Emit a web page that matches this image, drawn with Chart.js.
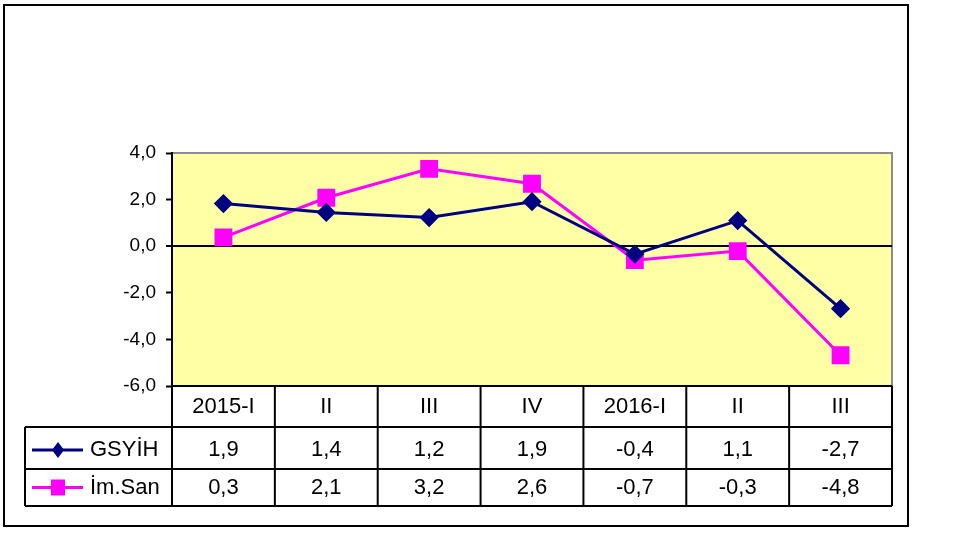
<!DOCTYPE html>
<html><head><meta charset="utf-8">
<script src="https://cdn.jsdelivr.net/npm/chart.js@4"></script>
<style>html,body{margin:0;padding:0;background:#fff;}canvas{display:block;}</style>
</head><body>
<canvas id="c" width="961" height="550"></canvas>
<script>
const categories = ["2015-I", "II", "III", "IV", "2016-I", "II", "III"];
const seriesNames = ["GSYİH", "İm.San"];
const gsyih = [1.83, 1.45, 1.23, 1.91, -0.34, 1.1, -2.68];
const imSan = [0.38, 2.08, 3.32, 2.68, -0.6, -0.21, -4.68];
const gsyihTable = ["1,9", "1,4", "1,2", "1,9", "-0,4", "1,1", "-2,7"];
const imSanTable = ["0,3", "2,1", "3,2", "2,6", "-0,7", "-0,3", "-4,8"];
const yTicks = [4, 2, 0, -2, -4, -6];

const colors = ["#000080", "#FF00FF"];
const FONT = "Liberation Sans, Arial, sans-serif";

const bgPlugin = {
  id: 'bg',
  beforeDraw(chart) {
    const {ctx, chartArea: a} = chart;
    ctx.save();
    ctx.fillStyle = '#FFFFA6';
    ctx.fillRect(a.left, a.top, a.right - a.left, a.bottom - a.top);
    ctx.strokeStyle = '#8c8c8c';
    ctx.lineWidth = 2;
    ctx.beginPath();
    ctx.moveTo(a.left, a.top); ctx.lineTo(a.right, a.top); ctx.lineTo(a.right, a.bottom);
    ctx.stroke();
    ctx.strokeStyle = '#000';
    ctx.lineWidth = 2;
    ctx.strokeRect(4, 5, 904, 521);
    ctx.restore();
  }
};

const tablePlugin = {
  id: 'table',
  afterDraw(chart) {
    const {ctx, chartArea: a} = chart;
    const xs = chart.scales.x;
    const n = categories.length;
    const step = (a.right - a.left) / n;
    const bounds = [];
    for (let i = 0; i <= n; i++) bounds.push(a.left + i * step);
    const rowY = [a.bottom, a.bottom + 41, a.bottom + 83, a.bottom + 120];
    const tableLeft = 25;
    ctx.save();
    ctx.strokeStyle = '#000';
    ctx.lineWidth = 2;
    ctx.beginPath();
    for (let i = 0; i <= n; i++) {
      ctx.moveTo(bounds[i], rowY[0]); ctx.lineTo(bounds[i], rowY[3]);
    }
    ctx.moveTo(tableLeft, rowY[1]); ctx.lineTo(tableLeft, rowY[3]);
    ctx.moveTo(a.left, rowY[0]); ctx.lineTo(a.right, rowY[0]);
    for (let r = 1; r <= 3; r++) { ctx.moveTo(tableLeft, rowY[r]); ctx.lineTo(a.right, rowY[r]); }
    ctx.stroke();

    ctx.fillStyle = '#000';
    ctx.font = '22px ' + FONT;
    ctx.textAlign = 'center';
    ctx.textBaseline = 'middle';
    const cy0 = (rowY[0] + rowY[1]) / 2;
    const cy1 = (rowY[1] + rowY[2]) / 2 + 2;
    const cy2 = (rowY[2] + rowY[3]) / 2;
    categories.forEach((c, i) => {
      const cx = xs.getPixelForValue(i);
      ctx.fillText(c, cx, cy0);
      ctx.fillText(gsyihTable[i], cx, cy1);
      ctx.fillText(imSanTable[i], cx, cy2);
    });
    [cy1, cy2].forEach((cy, k) => {
      ctx.strokeStyle = colors[k];
      ctx.lineWidth = 3;
      ctx.beginPath(); ctx.moveTo(32, cy); ctx.lineTo(83, cy); ctx.stroke();
      ctx.fillStyle = colors[k];
      ctx.beginPath();
      if (k === 0) {
        ctx.moveTo(58, cy - 8); ctx.lineTo(64, cy); ctx.lineTo(58, cy + 8); ctx.lineTo(52, cy);
        ctx.closePath(); ctx.fill();
      } else {
        ctx.fillRect(51, cy - 8, 14, 16);
      }
      ctx.fillStyle = '#000';
      ctx.textAlign = 'left';
      ctx.fillText(seriesNames[k], 90, cy);
    });
    ctx.restore();
  }
};

new Chart(document.getElementById('c'), {
  type: 'line',
  data: {
    labels: categories,
    datasets: [
      { label: seriesNames[0], data: gsyih, borderColor: colors[0], backgroundColor: colors[0],
        borderWidth: 3, pointStyle: 'rectRot', pointRadius: 7.5, pointHoverRadius: 7.5, tension: 0 },
      { label: seriesNames[1], data: imSan, borderColor: colors[1], backgroundColor: colors[1],
        borderWidth: 3, pointStyle: 'rect', pointRadius: 10.5, pointHoverRadius: 10.5, tension: 0 }
    ]
  },
  options: {
    responsive: false,
    devicePixelRatio: 1,
    animation: false,
    events: [],
    layout: { padding: { left: 112, top: 153, right: 69, bottom: 164 } },
    plugins: { legend: { display: false }, tooltip: { enabled: false } },
    scales: {
      x: { type: 'category', offset: true, display: false },
      y: {
        min: -6, max: 4,
        afterFit(s) { s.width = 60; },
        afterBuildTicks(s) { s.ticks = yTicks.map(v => ({ value: v })); },
        ticks: {
          color: '#000', padding: 10,
          font: { family: FONT, size: 19 },
          callback: v => v.toFixed(1).replace('.', ',')
        },
        grid: {
          drawOnChartArea: true, drawTicks: true, tickLength: 6,
          color: c => (c.tick && c.tick.value === 0) ? '#000' : 'rgba(0,0,0,0)',
          lineWidth: c => (c.tick && c.tick.value === 0) ? 2 : 1,
          tickColor: '#000', tickWidth: 2
        },
        border: { display: true, color: '#000', width: 2 }
      }
    }
  },
  plugins: [bgPlugin, tablePlugin]
});
</script>
</body></html>
